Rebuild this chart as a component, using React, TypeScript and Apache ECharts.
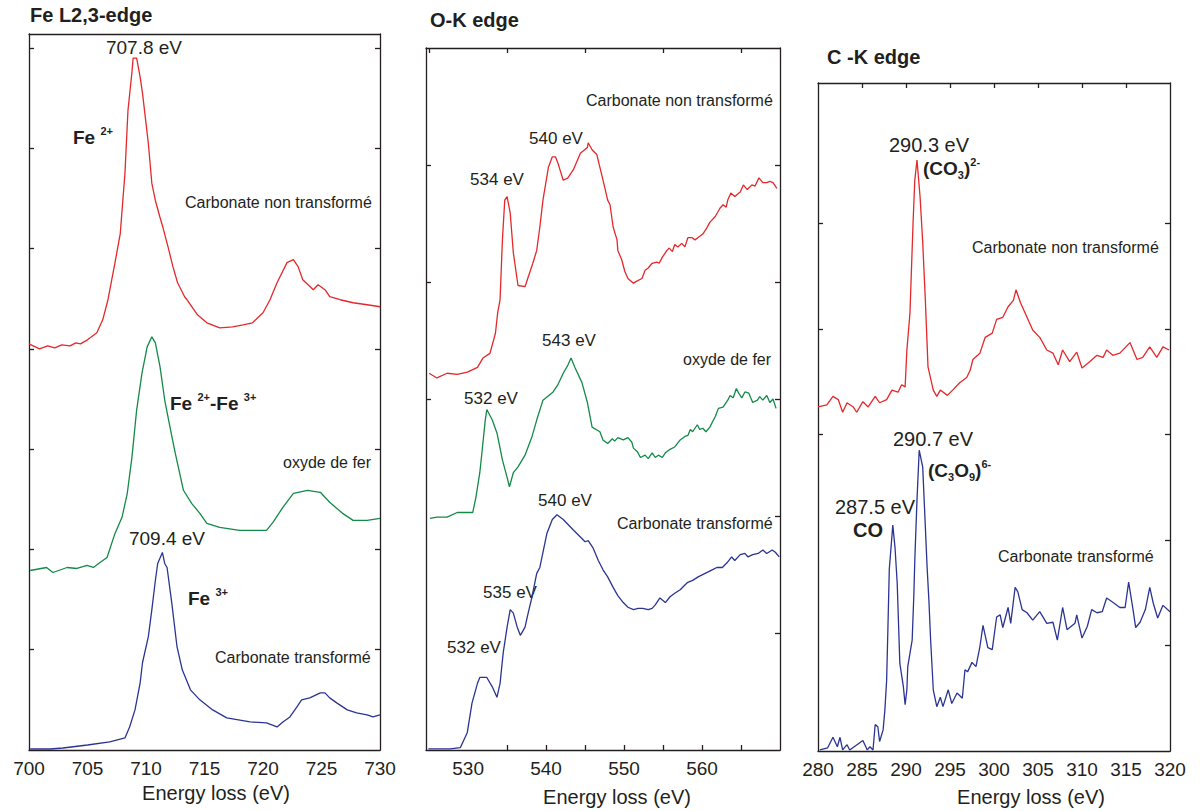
import React, { useEffect, useRef } from 'react';
import * as echarts from 'echarts';

// ---------- Fe L2,3-edge ----------
const feRed: number[][] = [
  [700.0, 4.05], [700.9, 4.0], [701.6, 4.03], [702.2, 4.01], [702.8, 4.04], [703.5, 4.03], [704.0, 4.06], [704.4, 4.05],
  [705.0, 4.09], [705.8, 4.16], [706.3, 4.29], [706.75, 4.49], [707.35, 4.86], [707.8, 5.15], [708.2, 5.75], [708.46, 6.38],
  [708.8, 6.76], [708.9, 6.9], [709.2, 6.9], [709.5, 6.71], [709.7, 6.55], [710.2, 6.05], [710.5, 5.65], [710.8, 5.48],
  [711.2, 5.31], [711.45, 5.21], [711.9, 5.01], [712.3, 4.82], [712.7, 4.66], [713.3, 4.52], [713.5, 4.49], [714.4, 4.34],
  [715.2, 4.26], [716.3, 4.21], [717.4, 4.22], [718.3, 4.24], [719.1, 4.26], [720.0, 4.36], [720.6, 4.49], [721.2, 4.66],
  [722.05, 4.86], [722.6, 4.89], [723.0, 4.82], [723.4, 4.69], [724.3, 4.59], [724.7, 4.64], [725.3, 4.59], [725.7, 4.52],
  [726.6, 4.49], [727.7, 4.46], [728.9, 4.44], [730.0, 4.42],
];
const feGreen: number[][] = [
  [700.1, 1.79], [701.5, 1.82], [702.05, 1.77], [703.25, 1.82], [704.1, 1.81], [704.96, 1.84], [705.5, 1.82], [706.07, 1.87],
  [706.67, 1.92], [707.35, 2.16], [707.95, 2.32], [708.4, 2.56], [708.8, 2.92], [709.2, 3.39], [709.66, 3.76], [710.1, 4.02],
  [710.5, 4.12], [710.8, 4.06], [711.2, 3.82], [711.6, 3.49], [712.05, 3.22], [712.5, 2.96], [713.2, 2.59], [713.9, 2.46],
  [714.6, 2.36], [715.2, 2.26], [716.3, 2.22], [718.0, 2.19], [720.3, 2.19], [720.85, 2.27], [721.7, 2.42], [722.6, 2.56],
  [723.8, 2.59], [724.9, 2.57], [725.7, 2.47], [726.8, 2.36], [727.7, 2.29], [728.9, 2.29], [730.0, 2.31],
];
const feBlue: number[][] = [
  [700.1, 0.01], [701.8, 0.01], [702.9, 0.02], [705.0, 0.05], [706.9, 0.08], [708.2, 0.12], [708.6, 0.23], [709.06, 0.4],
  [709.5, 0.67], [709.7, 0.87], [710.2, 1.13], [710.5, 1.4], [710.8, 1.69], [711.0, 1.86], [711.4, 1.97], [711.6, 1.86],
  [711.8, 1.82], [712.2, 1.47], [712.65, 1.03], [713.1, 0.8], [713.8, 0.6], [714.6, 0.5], [715.7, 0.4], [716.9, 0.32],
  [718.9, 0.28], [720.3, 0.27], [721.2, 0.23], [721.7, 0.28], [722.3, 0.33], [722.9, 0.43], [723.3, 0.5], [724.0, 0.52],
  [724.9, 0.57], [725.3, 0.57], [725.7, 0.52], [726.3, 0.47], [727.2, 0.4], [728.0, 0.37], [728.9, 0.35], [729.4, 0.33],
  [730.0, 0.35],
];

// ---------- O-K edge ----------
const oRed: number[][] = [
  [525.0, 3.22], [526.0, 3.18], [527.3, 3.22], [528.6, 3.21], [529.9, 3.23], [531.2, 3.27], [531.9, 3.35], [532.8, 3.39],
  [533.5, 3.56], [533.8, 3.74], [534.1, 3.85], [534.4, 4.36], [534.7, 4.7], [535.0, 4.73], [535.4, 4.59], [535.8, 4.25],
  [536.4, 3.97], [537.3, 3.96], [537.7, 4.04], [538.3, 4.16], [538.8, 4.27], [539.2, 4.47], [539.6, 4.7], [540.3, 4.98],
  [540.8, 5.07], [541.2, 5.07], [541.5, 5.02], [542.2, 4.87], [542.8, 4.89], [543.5, 4.96], [544.4, 5.1], [545.3, 5.15],
  [545.4, 5.19], [545.9, 5.13], [546.5, 5.09], [547.3, 4.87], [547.9, 4.7], [548.2, 4.66], [548.6, 4.47], [549.1, 4.36],
  [549.2, 4.27], [549.7, 4.19], [550.1, 4.09], [550.5, 4.03], [551.2, 3.99], [551.7, 4.01], [552.3, 4.03], [552.7, 4.1],
  [553.1, 4.12], [553.6, 4.16], [554.2, 4.17], [554.5, 4.16], [554.9, 4.21], [555.5, 4.27], [555.8, 4.29], [556.2, 4.26],
  [556.5, 4.32], [556.9, 4.3], [557.4, 4.33], [557.8, 4.3], [558.2, 4.38], [558.7, 4.38], [559.1, 4.36], [559.5, 4.38],
  [560.1, 4.41], [560.6, 4.46], [561.0, 4.51], [561.7, 4.56], [562.3, 4.63], [562.7, 4.66], [563.1, 4.64], [563.3, 4.7],
  [563.7, 4.76], [564.2, 4.73], [564.9, 4.77], [565.3, 4.83], [565.8, 4.79], [566.4, 4.83], [566.8, 4.82], [567.3, 4.89],
  [567.8, 4.85], [568.3, 4.85], [568.7, 4.86], [569.1, 4.85], [569.6, 4.8],
];
const oGreen: number[][] = [
  [525.1, 1.98], [526.0, 1.99], [527.3, 1.99], [528.6, 2.03], [529.9, 2.03], [530.6, 2.03], [531.0, 2.16], [531.5, 2.37],
  [531.8, 2.56], [532.2, 2.82], [532.4, 2.91], [533.1, 2.82], [533.7, 2.71], [534.4, 2.48], [535.0, 2.33], [535.3, 2.25],
  [535.8, 2.37], [536.4, 2.42], [537.3, 2.52], [538.2, 2.68], [538.8, 2.82], [539.6, 2.99], [540.9, 3.06], [541.5, 3.12],
  [542.2, 3.22], [542.8, 3.29], [543.2, 3.35], [543.7, 3.27], [544.6, 3.14], [545.3, 2.97], [545.9, 2.76], [546.9, 2.72],
  [547.3, 2.65], [547.9, 2.62], [548.5, 2.66], [548.8, 2.64], [549.2, 2.67], [549.9, 2.65], [550.5, 2.67], [551.0, 2.63],
  [551.2, 2.58], [551.7, 2.55], [552.1, 2.5], [552.7, 2.52], [553.1, 2.49], [553.6, 2.54], [554.0, 2.5], [554.4, 2.52],
  [554.9, 2.5], [555.3, 2.54], [555.9, 2.57], [556.5, 2.59], [557.2, 2.65], [557.8, 2.68], [558.2, 2.69], [558.5, 2.74],
  [558.8, 2.72], [559.4, 2.78], [559.7, 2.74], [560.1, 2.75], [560.5, 2.72], [561.0, 2.76], [561.7, 2.85], [562.1, 2.92],
  [562.7, 2.93], [563.3, 2.99], [563.6, 3.03], [564.0, 3.01], [564.4, 3.09], [564.7, 3.05], [565.1, 3.01], [565.5, 3.06],
  [566.0, 3.05], [566.5, 2.97], [567.1, 2.99], [567.4, 3.02], [567.8, 2.99], [568.3, 3.03], [568.7, 2.97], [569.1, 3.0],
  [569.5, 2.92],
];
const oBlue: number[][] = [
  [524.9, 0.01], [527.7, 0.01], [529.0, 0.02], [529.9, 0.15], [530.5, 0.4], [531.2, 0.57], [531.5, 0.62], [532.4, 0.62],
  [533.1, 0.54], [533.7, 0.45], [534.1, 0.57], [534.5, 0.83], [535.0, 1.05], [535.4, 1.2], [535.8, 1.17], [536.3, 1.05],
  [536.7, 0.98], [537.3, 1.05], [537.7, 1.17], [538.2, 1.31], [538.8, 1.51], [539.2, 1.56], [540.1, 1.85], [540.8, 1.97],
  [541.4, 2.01], [542.2, 1.97], [543.5, 1.88], [544.4, 1.82], [545.0, 1.78], [545.4, 1.79], [546.0, 1.73], [546.7, 1.62],
  [547.3, 1.54], [547.9, 1.48], [548.6, 1.39], [549.2, 1.32], [549.9, 1.26], [550.5, 1.22], [551.2, 1.2], [551.8, 1.21],
  [552.4, 1.21], [553.1, 1.2], [553.6, 1.21], [554.0, 1.24], [554.6, 1.3], [555.3, 1.26], [555.9, 1.31], [556.5, 1.34],
  [557.2, 1.37], [558.1, 1.43], [558.8, 1.45], [559.5, 1.48], [560.4, 1.51], [561.3, 1.54], [561.9, 1.56], [562.6, 1.56],
  [563.2, 1.6], [563.8, 1.65], [564.2, 1.62], [564.9, 1.67], [565.5, 1.68], [565.9, 1.65], [566.5, 1.67], [567.2, 1.68],
  [567.8, 1.71], [568.3, 1.68], [569.0, 1.71], [569.4, 1.69], [569.9, 1.65],
];

// ---------- C-K edge ----------
const cRed: number[][] = [
  [280.0, 3.26], [281.0, 3.28], [281.7, 3.36], [282.3, 3.33], [282.8, 3.21], [283.3, 3.3], [284.0, 3.26], [284.4, 3.21],
  [285.1, 3.31], [285.7, 3.26], [286.5, 3.36], [287.0, 3.3], [287.8, 3.33], [288.4, 3.42], [289.1, 3.4], [289.5, 3.47],
  [289.9, 3.45], [290.1, 3.8], [290.45, 4.15], [290.8, 5.0], [291.0, 5.41], [291.25, 5.6], [291.6, 5.25], [291.9, 4.82],
  [292.2, 4.27], [292.5, 3.64], [293.1, 3.42], [293.5, 3.36], [293.9, 3.42], [294.7, 3.37], [295.3, 3.42], [296.1, 3.49],
  [296.9, 3.54], [297.3, 3.61], [297.6, 3.71], [298.4, 3.77], [299.0, 3.92], [299.8, 3.96], [300.3, 4.09], [301.0, 4.11],
  [301.6, 4.21], [302.2, 4.27], [302.5, 4.37], [303.0, 4.25], [303.75, 4.11], [304.4, 3.99], [305.2, 3.92], [306.0, 3.8],
  [306.7, 3.77], [307.3, 3.66], [307.8, 3.8], [308.6, 3.69], [309.4, 3.78], [310.0, 3.63], [310.9, 3.69], [311.7, 3.75],
  [312.4, 3.73], [312.8, 3.8], [313.5, 3.75], [314.3, 3.77], [315.45, 3.87], [316.25, 3.71], [316.9, 3.73], [317.7, 3.83],
  [318.5, 3.73], [319.2, 3.83], [319.9, 3.8],
];
const cBlue: number[][] = [
  [280.2, 0.01], [281.1, 0.03], [281.7, 0.13], [282.2, 0.04], [282.5, 0.13], [282.8, 0.01], [283.3, 0.06], [283.6, 0.01],
  [285.1, 0.1], [285.6, 0.01], [285.9, 0.04], [286.25, 0.01], [286.5, 0.25], [286.8, 0.23], [287.0, 0.09], [287.4, 0.2],
  [287.6, 0.39], [287.8, 0.67], [287.95, 1.18], [288.1, 1.72], [288.5, 2.14], [288.75, 1.93], [289.0, 1.59], [289.3, 0.83],
  [289.7, 0.61], [289.9, 0.44], [290.1, 0.58], [290.2, 0.8], [290.7, 1.05], [290.9, 1.5], [291.0, 1.81], [291.25, 2.38],
  [291.5, 2.85], [291.9, 2.69], [292.2, 2.12], [292.4, 1.74], [292.6, 1.43], [292.8, 1.05], [293.1, 0.58], [293.5, 0.42],
  [293.9, 0.51], [294.2, 0.42], [294.8, 0.58], [295.2, 0.45], [295.8, 0.55], [296.4, 0.5], [296.7, 0.77], [297.0, 0.75],
  [297.5, 0.84], [297.95, 0.8], [298.4, 0.99], [298.75, 1.19], [299.3, 0.98], [299.8, 0.96], [300.3, 1.27], [300.7, 1.29],
  [301.0, 1.17], [301.6, 1.36], [301.9, 1.21], [302.4, 1.55], [302.7, 1.51], [303.2, 1.34], [303.75, 1.31], [304.4, 1.24],
  [305.2, 1.32], [306.0, 1.21], [306.7, 1.22], [307.2, 1.05], [307.8, 1.36], [308.3, 1.15], [309.2, 1.21], [309.4, 1.29],
  [310.0, 1.07], [310.6, 1.18], [311.1, 1.34], [311.7, 1.31], [312.3, 1.32], [312.8, 1.45], [313.5, 1.41], [314.3, 1.36],
  [314.9, 1.36], [315.3, 1.6], [315.8, 1.34], [316.1, 1.17], [316.6, 1.22], [317.2, 1.34], [317.7, 1.55], [318.1, 1.4],
  [318.6, 1.26], [319.2, 1.38], [320.0, 1.32],
];

// ---------- tick values ----------
const feXLabels = [700, 705, 710, 715, 720, 725, 730];
const feYTicks = [1, 2, 3, 4, 5, 6, 7];
const oXLabels = [530, 540, 550, 560];
const oBottomTicks = [535, 540, 545, 550, 555, 560, 565];
const oTopTicks = [525, 535, 545, 555, 565];
const oYTicksLeft = [3, 4, 5];
const oYTicksRight = [1, 2, 3, 4, 5];
const cXLabels = [280, 285, 290, 295, 300, 305, 310, 315, 320];
const cTopTicks = [285, 290, 295, 300, 305, 310, 315];
const cYTicksLeft = [3, 4, 5];
const cYTicksRight = [1, 2, 3, 4, 5];

const FONT = 'Arial, "Liberation Sans", Helvetica, sans-serif';
const TXT = '#231f20';
const RED = '#e4282b';
const GREEN = '#138a48';
const BLUE = '#2b3492';

const lineStyleAxis = { color: TXT, width: 1.3 };

function xAxes(gi: number, min: number, max: number, labels: number[], bottomTicks: number[] | null, topTicks: number[] | null) {
  return [
    {
      type: 'value', gridIndex: gi, min, max, position: 'bottom',
      axisLine: { show: true, onZero: false, lineStyle: lineStyleAxis },
      axisTick: bottomTicks ? { show: true, inside: true, length: 5, customValues: bottomTicks, lineStyle: lineStyleAxis } : { show: false },
      axisLabel: { show: true, customValues: labels, color: TXT, fontSize: 19, fontFamily: FONT, margin: 9 },
      splitLine: { show: false },
    },
    {
      type: 'value', gridIndex: gi, min, max, position: 'top',
      axisLine: { show: true, onZero: false, lineStyle: lineStyleAxis },
      axisTick: topTicks ? { show: true, inside: true, length: 5, customValues: topTicks, lineStyle: lineStyleAxis } : { show: false },
      axisLabel: { show: false },
      splitLine: { show: false },
    },
  ];
}
function yAxes(gi: number, min: number, max: number, leftTicks: number[], rightTicks: number[]) {
  return [
    {
      type: 'value', gridIndex: gi, min, max, position: 'left',
      axisLine: { show: true, onZero: false, lineStyle: lineStyleAxis },
      axisTick: { show: true, inside: true, length: 5, customValues: leftTicks, lineStyle: lineStyleAxis },
      axisLabel: { show: false },
      splitLine: { show: false },
    },
    {
      type: 'value', gridIndex: gi, min, max, position: 'right',
      axisLine: { show: true, onZero: false, lineStyle: lineStyleAxis },
      axisTick: { show: true, inside: true, length: 5, customValues: rightTicks, lineStyle: lineStyleAxis },
      axisLabel: { show: false },
      splitLine: { show: false },
    },
  ];
}

function line(axisIdx: number, data: number[][], color: string) {
  return {
    type: 'line', xAxisIndex: axisIdx, yAxisIndex: axisIdx, data,
    showSymbol: false, silent: true,
    lineStyle: { color, width: 1.3 }, itemStyle: { color },
  };
}

function txt(x: number, y: number, text: string, fontSize: number, align = 'left', bold = false) {
  return {
    type: 'text', x, y, silent: true,
    style: {
      text, fill: TXT, fontSize, fontFamily: FONT, fontWeight: bold ? 'bold' : 'normal',
      align, textAlign: align, verticalAlign: 'middle', textVerticalAlign: 'middle',
    },
  };
}
const richStyles = {
  b: { fontSize: 19, fontWeight: 'bold', fontFamily: FONT, fill: TXT, color: TXT, lineHeight: 24 },
  sup: { fontSize: 11, fontWeight: 'bold', fontFamily: FONT, fill: TXT, color: TXT, lineHeight: 14, verticalAlign: 'top' },
  sub: { fontSize: 11, fontWeight: 'bold', fontFamily: FONT, fill: TXT, color: TXT, lineHeight: 11, verticalAlign: 'bottom' },
};
function rtxt(x: number, y: number, text: string) {
  return {
    type: 'text', x, y, silent: true,
    style: {
      text, fill: TXT, fontSize: 19, fontWeight: 'bold', fontFamily: FONT,
      align: 'left', textAlign: 'left', verticalAlign: 'middle', textVerticalAlign: 'middle',
      rich: richStyles,
    },
  };
}

export default function App() {
  const ref = useRef<HTMLDivElement>(null);
  useEffect(() => {
    if (!ref.current) return;
    const chart = echarts.init(ref.current, null, { renderer: 'svg' });
    const option: any = {
      animation: false,
      backgroundColor: '#ffffff',
      grid: [
        { left: 29, top: 34, width: 351, height: 716 },
        { left: 426, top: 48, width: 354, height: 702 },
        { left: 818, top: 83, width: 352, height: 668 },
      ],
      xAxis: [
        ...xAxes(0, 700, 730, feXLabels, null, null),
        ...xAxes(1, 524.6, 570, oXLabels, oBottomTicks, oTopTicks),
        ...xAxes(2, 280, 320, cXLabels, null, cTopTicks),
      ],
      yAxis: [
        ...yAxes(0, 0, 7.14, feYTicks, feYTicks),
        ...yAxes(1, 0, 6, oYTicksLeft, oYTicksRight),
        ...yAxes(2, 0, 6.33, cYTicksLeft, cYTicksRight),
      ],
      series: [
        line(0, feRed, RED), line(0, feGreen, GREEN), line(0, feBlue, BLUE),
        line(2, oRed, RED), line(2, oGreen, GREEN), line(2, oBlue, BLUE),
        line(4, cRed, RED), line(4, cBlue, BLUE),
      ],
      graphic: [
        // titles
        txt(30, 15, 'Fe L2,3-edge', 20, 'left', true),
        txt(430, 20, 'O-K edge', 20, 'left', true),
        txt(827, 57, 'C -K edge', 20, 'left', true),
        // axis names
        txt(216, 793, 'Energy loss (eV)', 20, 'center'),
        txt(617, 797, 'Energy loss (eV)', 20, 'center'),
        txt(1031, 797, 'Energy loss (eV)', 20, 'center'),
        // Fe panel
        txt(144, 47, '707.8 eV', 19, 'center'),
        rtxt(73, 137, '{b|Fe }{sup|2+}'),
        txt(185, 202, 'Carbonate non transformé', 16),
        rtxt(170, 403, '{b|Fe }{sup|2+}{b|-Fe }{sup|3+}'),
        txt(283, 462, 'oxyde de fer', 16),
        txt(167, 538, '709.4 eV', 19, 'center'),
        rtxt(188, 598, '{b|Fe }{sup|3+}'),
        txt(215, 657, 'Carbonate transformé', 16),
        // O panel
        txt(586, 100, 'Carbonate non transformé', 16),
        txt(556, 138, '540 eV', 17, 'center'),
        txt(497, 179, '534 eV', 17, 'center'),
        txt(569, 340, '543 eV', 17, 'center'),
        txt(683, 359, 'oxyde de fer', 16),
        txt(491, 398, '532 eV', 17, 'center'),
        txt(565, 500, '540 eV', 17, 'center'),
        txt(617, 523, 'Carbonate transformé', 16),
        txt(510, 592, '535 eV', 17, 'center'),
        txt(474, 647, '532 eV', 17, 'center'),
        // C panel
        txt(929, 145, '290.3 eV', 20, 'center'),
        rtxt(923, 168, '{b|(CO}{sub|3}{b|)}{sup|2-}'),
        txt(972, 247, 'Carbonate non transformé', 16),
        txt(933, 439, '290.7 eV', 20, 'center'),
        rtxt(928, 470, '{b|(C}{sub|3}{b|O}{sub|9}{b|)}{sup|6-}'),
        txt(875, 507, '287.5 eV', 20, 'center'),
        txt(853, 530, 'CO', 20, 'left', true),
        txt(998, 556, 'Carbonate transformé', 16),
      ],
    };
    chart.setOption(option);
    return () => chart.dispose();
  }, []);
  return (
    <div
      ref={ref}
      style={{ position: 'absolute', left: 0, top: 0, width: 1200, height: 811, background: '#fff' }}
    />
  );
}
